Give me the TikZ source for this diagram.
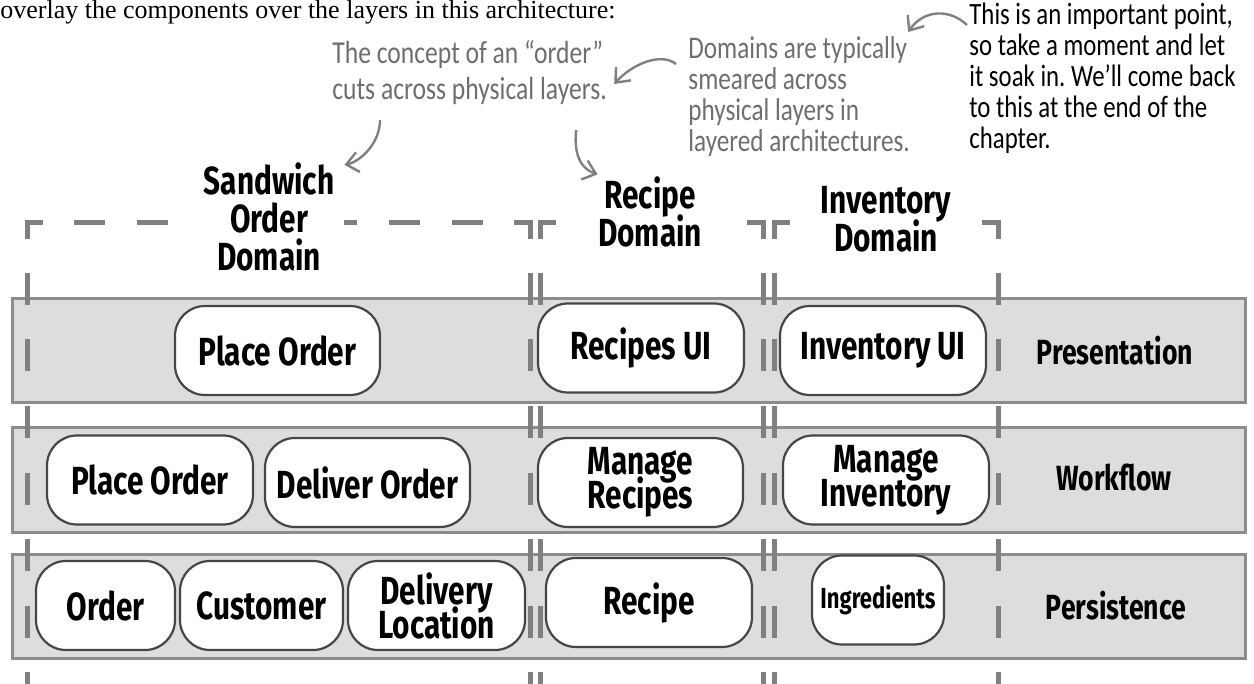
\documentclass[tikz,border=0pt]{standalone}
\usepackage{fontspec}
\newfontfamily\boxfont{Fira Sans}[FakeStretch=0.76]
\newfontfamily\handfont{Carlito}[FakeStretch=0.8]
\newfontfamily\headfont{Liberation Serif}
\usetikzlibrary{arrows.meta,calc}

\newcommand\tightlines{\setlength{\lineskiplimit}{-20pt}}

\definecolor{bandfill}{RGB}{220,221,223}
\definecolor{bandline}{RGB}{140,140,140}
\definecolor{domline}{RGB}{128,128,128}
\definecolor{compline}{RGB}{70,70,70}
\definecolor{notegray}{RGB}{110,110,110}

\tikzset{
  band/.style={draw=bandline, fill=bandfill, line width=1.5pt, minimum width=616.5pt, minimum height=52pt, inner sep=0pt},
  comp/.style={draw=compline, fill=white, line width=1.1pt, rounded corners=15pt, inner sep=0pt, minimum height=44.5pt, align=center, font=\boxfont\bfseries\fontsize{19.6}{17}\selectfont\tightlines},
  layerlbl/.style={font=\boxfont\bfseries\fontsize{17.5}{18}\selectfont},
  domlbl/.style={align=center, inner sep=0pt, font=\boxfont\bfseries\fontsize{19.6}{19}\selectfont\tightlines},
  domdash/.style={draw=domline, line width=2.5pt, dash pattern=on 16pt off 17.25pt},
  domtop/.style={draw=domline, line width=2.5pt, dash pattern=on 15.5pt off 16pt},
  domcorner/.style={draw=domline, line width=2.5pt},
  note/.style={align=left, inner sep=0pt, anchor=north west, text=notegray},
  notearrow/.style={draw=domline, line width=1.2pt, -{Straight Barb[length=6pt,width=10pt]}}
}

\begin{document}
\frenchspacing
\begin{tikzpicture}[x=0.5pt, y=-0.5pt]
\useasboundingbox (0,0) rectangle (1254,684);

\node[anchor=base west, inner sep=0pt, font=\headfont\fontsize{13}{15}\selectfont] (head) at (0,19) {overlay the components over the layers in this architecture:};

\node[band] (presBand) at (628.5,350.5) {};
\node[band] (wfBand)   at (628.5,480)   {};
\node[band] (psBand)   at (628.5,606)   {};

\foreach \x in {27,530,540,763,774,998}
  \draw[domdash] (\x,273) -- (\x,700);
\foreach \x in {27,540,774}
  \draw[domcorner] (\x,239) |- (\x+16,223);
\foreach \x in {530,763,998}
  \draw[domcorner] (\x,239) |- (\x-16,223);
\draw[domtop] (74,223) -- (484,223);

\node[domlbl, fill=white, minimum width=75pt] (sandDom) at (269,216.5) {Sandwich\\Order\\Domain};
\node[domlbl] (recipeDom) at (650,212) {Recipe\\Domain};
\node[domlbl] (invDom)    at (886,219) {Inventory\\Domain};

\node[comp, minimum width=102.5pt] (presPlace)   at (277.5,350.5) {Place Order};
\node[comp, minimum width=103pt]   (presRecipes) at (641,348)     {Recipes UI};
\node[comp, minimum width=103pt]   (presInv)     at (883,350.5)   {Inventory UI};
\node[layerlbl] (presLbl) at (1115,350.5) {Presentation};

\node[comp, minimum width=103pt]   (wfPlace)   at (150,480)     {Place Order};
\node[comp, minimum width=102.5pt] (wfDeliver) at (367.5,482.5) {Deliver Order};
\node[comp, minimum width=102.5pt] (wfRecipes) at (640.5,482.5) {Manage\\Recipes};
\node[comp, minimum width=103pt]   (wfInv)     at (886,480)     {Manage\\Inventory};
\node[layerlbl] (wfLbl) at (1114,478) {Workflow};

\node[comp, minimum width=69.5pt] (psOrder)    at (105.5,605.5) {Order};
\node[comp, minimum width=81.5pt] (psCustomer) at (261.5,605.5) {Customer};
\node[comp, minimum width=88.5pt] (psDelivery) at (436.5,605.5) {Delivery\\Location};
\node[comp, minimum width=103pt]  (psRecipe)   at (649,602.5)   {Recipe};
\node[comp, minimum width=66pt, font=\boxfont\bfseries\fontsize{14.5}{15}\selectfont] (psIngr) at (878,600) {Ingredients};
\node[layerlbl] (psLbl) at (1116,606) {Persistence};

\node[note, font=\handfont\fontsize{16}{18}\selectfont] (noteOrder) at (332,40)
  {The concept of an “order”\\cuts across physical layers.};
\node[note, font=\handfont\fontsize{15.75}{15.5}\selectfont] (noteDomain) at (688,36)
  {Domains are typically\\smeared across\\physical layers in\\layered architectures.};
\node[note, text=black, font=\handfont\fontsize{15.5}{15.5}\selectfont] (notePoint) at (969,3)
  {This is an important point,\\so take a moment and let\\it soak in. We’ll come back\\to this at the end of the\\chapter.};

\draw[notearrow] ($(notePoint.north west)+(-2,22)$) .. controls +(-18,-17) and +(15,-22) .. ($(noteDomain.north east)+(-2,-4)$);
\draw[notearrow] ($(noteDomain.north west)+(-12,28)$) .. controls +(-15,-12) and +(18,-20) .. ($(noteOrder.north east)+(7,44)$);
\draw[notearrow] ($(noteOrder.south west)+(48,15)$) .. controls +(0,24) and +(15,-3) .. ($(sandDom.north east)+(0,3)$);
\draw[notearrow] ($(noteOrder.south east)+(-31,25)$) .. controls +(-3,27) and +(-15,-5) .. ($(recipeDom.north west)+(0,-2)$);

\end{tikzpicture}
\end{document}
